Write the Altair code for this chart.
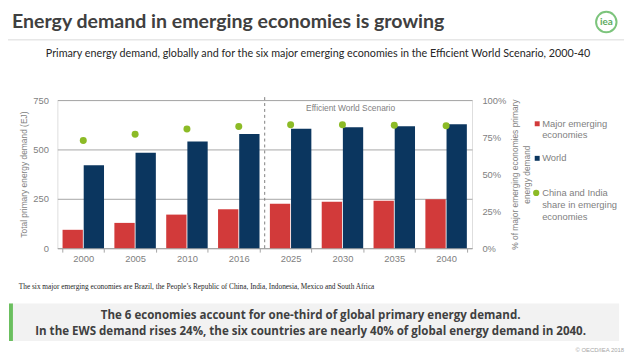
import altair as alt
import pandas as pd

years = ["2000", "2005", "2010", "2016", "2025", "2030", "2035", "2040"]
major = [93, 128, 170, 197, 225, 235, 240, 248]
world = [420, 483, 540, 578, 605, 613, 618, 627]
share = [0.727, 0.77, 0.804, 0.822, 0.833, 0.833, 0.83, 0.827]
series = ["Major emerging economies", "World"]
colors = ["#D23A3A", "#0B365F"]
green = "#8CBB26"

NARROW = "'Liberation Sans Narrow', 'Liberation Sans', Arial, sans-serif"
GRAY = "#7F7F7F"

rows = []
for i, y in enumerate(years):
    rows.append({"year": y, "series": series[0], "value": major[i]})
    rows.append({"year": y, "series": series[1], "value": world[i]})
bars_df = pd.DataFrame(rows)
dots_df = pd.DataFrame({"year": years, "share": share})
one = pd.DataFrame({"a": [0]})

xenc = alt.X("year:N", sort=years,
             scale=alt.Scale(paddingInner=0.2, paddingOuter=0.1),
             axis=alt.Axis(title=None, labelAngle=0, tickBand="extent", tickSize=4,
                           labelPadding=2, domainColor="#A6A6A6", tickColor="#A6A6A6",
                           labelColor=GRAY, labelFontSize=9.5, labelFont=NARROW))

bars = alt.Chart(bars_df).mark_bar().encode(
    x=xenc,
    xOffset=alt.XOffset("series:N", sort=series, scale=alt.Scale(paddingInner=0.04)),
    y=alt.Y("value:Q", scale=alt.Scale(domain=[0, 750]),
            axis=alt.Axis(values=[0, 250, 500, 750], title="Total primary energy demand (EJ)",
                          domain=False, ticks=False, labelPadding=9, gridColor="#A6A6A6",
                          labelColor=GRAY, labelFontSize=9.5, labelFont=NARROW,
                          titleColor=GRAY, titleFontSize=8.5, titleFont=NARROW,
                          titleFontWeight="normal", titlePadding=4)),
    color=alt.Color("series:N", sort=series, scale=alt.Scale(domain=series, range=colors), legend=None),
)

dots = alt.Chart(dots_df).mark_circle(size=50, opacity=1, color=green).encode(
    x=alt.X("year:N", sort=years),
    y=alt.Y("share:Q", scale=alt.Scale(domain=[0, 1]),
            axis=alt.Axis(orient="right", values=[0, 0.25, 0.5, 0.75, 1], format=".0%",
                          title=["% of major emerging economies primary", "energy demand"],
                          titleAngle=270, grid=False, domain=False, ticks=False, labelPadding=10,
                          labelColor=GRAY, labelFontSize=9.5, labelFont=NARROW,
                          titleColor=GRAY, titleFontSize=8.5, titleFont=NARROW,
                          titleFontWeight="normal", titlePadding=2, titleLineHeight=12)),
)

rule = alt.Chart(pd.DataFrame({"year": ["2025"]})).mark_rule(
    strokeDash=[3, 3], color="#7F7F7F", strokeWidth=1, xOffset=-5.25
).encode(x=alt.X("year:N", sort=years, bandPosition=0), y=alt.value(-3), y2=alt.value(150))


def txt(text, x, y, size=10, color="#595959", font=NARROW, weight="normal", align="left"):
    return alt.Chart(one).mark_text(
        text=text, fontSize=size, color=color, font=font, fontWeight=weight,
        align=align, baseline="middle"
    ).encode(x=alt.value(x), y=alt.value(y))


layers = [bars, dots, rule]

# title and header
layers.append(txt("Energy demand in emerging economies is growing", -46, -79, size=19.8,
                  color="#404040", font="Lato", weight="bold"))
layers.append(alt.Chart(one).mark_rule(color="#D9D9D9", strokeWidth=1).encode(
    x=alt.value(-50), x2=alt.value(574), y=alt.value(-61)))
layers.append(alt.Chart(one).mark_point(shape="circle", size=430, filled=False,
                                         color="#7CC47C", strokeWidth=2, opacity=1).encode(
    x=alt.value(556), y=alt.value(-79)))
layers.append(txt("iea", 556, -79, size=10, color="#5DAA5D", font="Lato", weight="bold", align="center"))
layers.append(txt("Primary energy demand, globally and for the six major emerging economies in the Efficient World Scenario, 2000-40",
                  264, -47, size=10.9, color="#262626", font="Lato", align="center"))

# scenario label
layers.append(txt("Efficient World Scenario", 297, 8, size=8.5, color=GRAY, align="center"))

# legend
layers.append(alt.Chart(one).mark_square(size=25, color=colors[0], opacity=1).encode(
    x=alt.value(486), y=alt.value(24)))
layers.append(alt.Chart(one).mark_square(size=25, color=colors[1], opacity=1).encode(
    x=alt.value(486), y=alt.value(59)))
layers.append(alt.Chart(one).mark_circle(size=40, color=green, opacity=1).encode(
    x=alt.value(485), y=alt.value(94)))
for t, yy in [("Major emerging", 24), ("economies", 35), ("World", 59),
              ("China and India", 94), ("share in emerging", 106.5), ("economies", 118)]:
    layers.append(txt(t, 491, yy, size=9.5, color=GRAY))

# footnote
layers.append(txt("The six major emerging economies are Brazil, the People\u2019s Republic of China, India, Indonesia, Mexico and South Africa",
                  -39, 189, size=7.4, color="#262626", font="'Liberation Serif', serif"))

# bottom box
layers.append(alt.Chart(one).mark_rect(color="#F2F2F2").encode(
    x=alt.value(-46), x2=alt.value(569), y=alt.value(206), y2=alt.value(244)))
layers.append(alt.Chart(one).mark_rect(color="#6BBF5F").encode(
    x=alt.value(-49), x2=alt.value(-45), y=alt.value(206), y2=alt.value(244)))
layers.append(txt("The 6 economies account for one-third of global primary energy demand.",
                  256.5, 217.7, size=11.7, color="#404040", font="Open Sans", weight="bold", align="center"))
layers.append(txt("In the EWS demand rises 24%, the six countries are nearly 40% of global energy demand in 2040.",
                  256.5, 234.3, size=11.7, color="#404040", font="Open Sans", weight="bold", align="center"))
layers.append(txt("\u00a9 OECD/IEA 2018", 574, 253, size=6, color="#A6A6A6", font="Liberation Sans", align="right"))

chart = alt.layer(*layers).resolve_scale(y="independent").properties(
    width=420, height=150,
    padding={"left": 50, "top": 91, "right": 160, "bottom": 110},
    autosize=alt.AutoSizeParams(type="none"),
).configure_view(stroke=None).configure(background="white")

chart.save("out.html", embed_options={"renderer": "svg", "actions": False})
